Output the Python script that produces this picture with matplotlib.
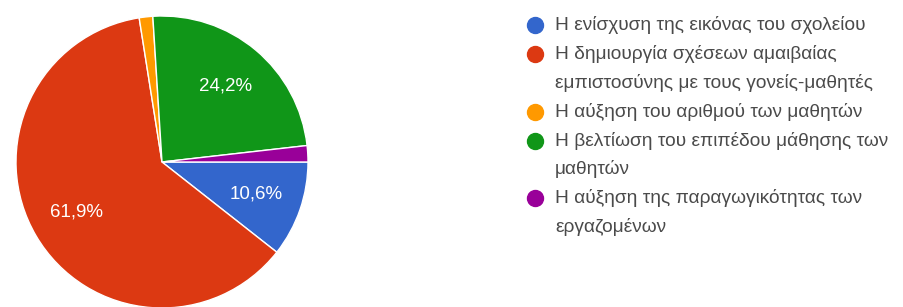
import matplotlib
matplotlib.use("Agg")
import matplotlib.pyplot as plt

categories = [
    "Η ενίσχυση της εικόνας του σχολείου",
    "Η δημιουργία σχέσεων αμαιβαίας\nεμπιστοσύνης με τους γονείς-μαθητές",
    "Η αύξηση του αριθμού των μαθητών",
    "Η βελτίωση του επιπέδου μάθησης των\nμαθητών",
    "Η αύξηση της παραγωγικότητας των\nεργαζομένων",
]
values = [10.6, 61.9, 1.5, 24.2, 1.8]
colors = ["#3366cc", "#dc3912", "#ff9900", "#109618", "#990099"]

plt.rcParams['font.family'] = ['Liberation Sans', 'DejaVu Sans']

W, H = 904, 307
fig = plt.figure(figsize=(W / 100, H / 100), dpi=100)
cx, cy, R = 162, 162, 146
ax = fig.add_axes([(cx - R) / W, (H - cy - R) / H, 2 * R / W, 2 * R / H])

def fmt(p):
    return ("%.1f%%" % p).replace(".", ",") if p > 5 else ""

wedges, texts, autotexts = ax.pie(
    values, colors=colors, startangle=0, counterclock=False,
    autopct=fmt, pctdistance=0.68,
    wedgeprops=dict(edgecolor="white", linewidth=1.0),
    textprops=dict(color="white", fontsize=13.5),
)
ax.set_xlim(-1, 1)
ax.set_ylim(-1, 1)
ax.set_aspect("equal")
ax.axis("off")

# legend (manual)
lax = fig.add_axes([0, 0, 1, 1])
lax.set_xlim(0, W)
lax.set_ylim(H, 0)
lax.axis("off")
line = 0
y0, dy = 25, 28.9
for cat, col in zip(categories, colors):
    y = y0 + dy * line
    lax.plot([535], [y], marker="o", markersize=11.5, color=col, linestyle="none")
    for k, part in enumerate(cat.split("\n")):
        lax.text(555, y + dy * k, part, fontsize=13.8, color="#4a4a4a",
                 va="center", ha="left")
    line += len(cat.split("\n"))

fig.savefig("out.png", dpi=100, facecolor="white")
